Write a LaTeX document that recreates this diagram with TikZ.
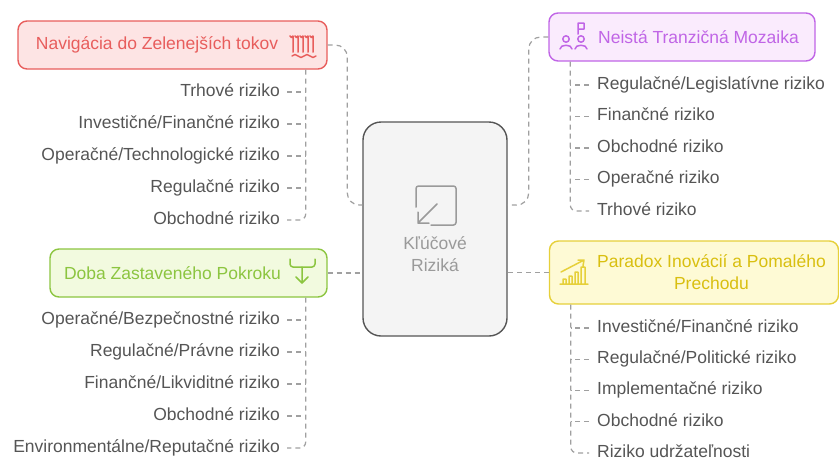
\documentclass[tikz,border=0pt]{standalone}
\usepackage{fontspec}
\setmainfont{Liberation Sans}
\usetikzlibrary{positioning}

\definecolor{navRed}{HTML}{E85D5C}
\definecolor{navFill}{HTML}{FDE4E4}
\definecolor{mozPurple}{HTML}{C065E6}
\definecolor{mozFill}{HTML}{FAEBFD}
\definecolor{dobaGreen}{HTML}{8CC540}
\definecolor{dobaFill}{HTML}{F2FADF}
\definecolor{parYellow}{HTML}{E6D03A}
\definecolor{parText}{HTML}{D9BF10}
\definecolor{parFill}{HTML}{FEFAD5}
\definecolor{itemGrey}{HTML}{555555}
\definecolor{linkGrey}{HTML}{A0A0A0}
\definecolor{keyGrey}{HTML}{9A9A9A}
\definecolor{keyFill}{HTML}{F4F4F4}
\definecolor{keyLine}{HTML}{555555}

\begin{document}
\begin{tikzpicture}[x=1pt,y=-1pt,node distance=31.5pt,
  every node/.style={font=\fontsize{17.5}{22}\selectfont},
  topic/.style={draw,rounded corners=9pt,line width=1.4pt,inner sep=0pt,minimum height=48pt},
  leftitem/.style={text=itemGrey,inner xsep=7pt,inner ysep=0pt,text height=12.5pt,text depth=4pt,anchor=east},
  rightitem/.style={text=itemGrey,inner xsep=8pt,inner ysep=0pt,text height=12.5pt,text depth=4pt,anchor=west},
  link/.style={draw=linkGrey,line width=1.2pt,dash pattern=on 5pt off 4pt},
  icon/.style={line width=1.5pt,line cap=round,line join=round}]
  \useasboundingbox (0,0) rectangle (839,459);

  % centre
  \node[draw=keyLine,fill=keyFill,line width=1.4pt,rounded corners=18pt,minimum width=144pt,minimum height=214pt] (kluc) at (435,229) {};
  \node[text=keyGrey,align=center] (klucText) at (435,254) {Kľúčové\\Riziká};
  \draw[icon,draw=keyGrey,rounded corners=2.5pt] (416,207) |- (456,186) |- (431,225);
  \draw[icon,draw=keyGrey] (437,204) -- (418,223) (418,212) -- (418,223) -- (429,223);

  % topics
  \node[topic,draw=navRed,fill=navFill,text=navRed,minimum width=309pt] (nav) at (172.5,45) {Navigácia do Zelenejších tokov\hspace*{31pt}};
  \node[topic,draw=mozPurple,fill=mozFill,text=mozPurple,minimum width=266pt] (neista) at (682,37) {\hspace*{33pt}Neistá Tranzičná Mozaika};
  \node[topic,draw=dobaGreen,fill=dobaFill,text=dobaGreen,minimum width=277pt] (doba) at (188.5,273) {Doba Zastaveného Pokroku\hspace*{32pt}};
  \node[topic,draw=parYellow,fill=parFill,text=parText,minimum width=289pt,minimum height=63pt,align=center] (paradox) at (694,272.5) {\hspace*{35pt}Paradox Inovácií a Pomalého\\\hspace*{35pt}Prechodu};

  % icons
  \draw[icon,draw=navRed] (293,52) -- (293,36) arc (0:180:1.5) (298,52) -- (298,36) arc (0:180:1.5)
    (303,52) -- (303,36) arc (0:180:1.5) (308,52) -- (308,36) arc (0:180:1.5) (313,52) -- (313,36) arc (0:180:1.5);
  \draw[icon,draw=navRed] (292,56) sin (295,54.5) cos (298,56) sin (301,57.5) cos (304,56) sin (307,54.5) cos (310,56) sin (313,57.5) cos (316,56);
  \draw[icon,draw=mozPurple] (566,39) circle (3.2) (581,39) circle (3.2)
    (560,49) .. controls (560,44) and (572,44) .. (572,49)
    (575,49) .. controls (575,44) and (587,44) .. (587,49)
    (578,34) -- (578,23) -- (584,23) -- (584,29) -- (578,29);
  \draw[icon,draw=dobaGreen,rounded corners=3pt] (290,259) |- (315,267) -- (315,259);
  \draw[icon,draw=dobaGreen] (302,267) -- (302,283) (296,277) -- (302,283) -- (308,277);
  \draw[icon,draw=parYellow] (560,284) -- (588,284)
    (563,284) |- (566,279) -- (566,284) (569,284) |- (572,276) -- (572,284)
    (575,284) |- (578,272) -- (578,284) (581,284) |- (585,267) -- (585,284)
    (561,272) -- (584,260) (578,260) -- (584,260) -- (583,266);

  % topic links
  \coordinate (klucNW) at ([yshift=24pt]kluc.west);
  \coordinate (klucNE) at ([yshift=24pt]kluc.east);
  \draw[link,rounded corners=12pt] (nav.east) -| ([xshift=-15pt]klucNW) -- (klucNW);
  \draw[link,rounded corners=12pt] (neista.west) -| ([xshift=21pt]klucNE) -- (klucNE);
  \draw[link] (doba.east) -- (doba.east -| kluc.west);
  \draw[link] (paradox.west) -- (paradox.west -| kluc.east);

  % Navigacia
  \node[leftitem] (nav1) at (287,92) {Trhové riziko};
  \node[leftitem] (nav2) [below=32pt of nav1.east,anchor=east] {Investičné/Finančné riziko};
  \node[leftitem] (nav3) [below=32pt of nav2.east,anchor=east] {Operačné/Technologické riziko};
  \node[leftitem] (nav4) [below=32pt of nav3.east,anchor=east] {Regulačné riziko};
  \node[leftitem] (nav5) [below=32pt of nav4.east,anchor=east] {Obchodné riziko};
  \coordinate (navT) at ([xshift=-22pt]nav.south east);
  \draw[link,rounded corners=6pt] (navT) |- (nav5.east);
  \draw[link] (nav1.east) -- (nav1.east -| navT);
  \draw[link] (nav2.east) -- (nav2.east -| navT);
  \draw[link] (nav3.east) -- (nav3.east -| navT);
  \draw[link] (nav4.east) -- (nav4.east -| navT);

  % Neista
  \node[rightitem] (moz1) at (589,85) {Regulačné/Legislatívne riziko};
  \node[rightitem] (moz2) [below=of moz1.west,anchor=west] {Finančné riziko};
  \node[rightitem] (moz3) [below=of moz2.west,anchor=west] {Obchodné riziko};
  \node[rightitem] (moz4) [below=of moz3.west,anchor=west] {Operačné riziko};
  \node[rightitem] (moz5) [below=of moz4.west,anchor=west] {Trhové riziko};
  \coordinate (mozT) at ([xshift=22pt]neista.south west);
  \draw[link,rounded corners=6pt] (mozT) |- (moz5.west);
  \draw[link] (moz1.west) -- (moz1.west -| mozT);
  \draw[link] (moz2.west) -- (moz2.west -| mozT);
  \draw[link] (moz3.west) -- (moz3.west -| mozT);
  \draw[link] (moz4.west) -- (moz4.west -| mozT);

  % Doba
  \node[leftitem] (doba1) at (287,320) {Operačné/Bezpečnostné riziko};
  \node[leftitem] (doba2) [below=32pt of doba1.east,anchor=east] {Regulačné/Právne riziko};
  \node[leftitem] (doba3) [below=32pt of doba2.east,anchor=east] {Finančné/Likviditné riziko};
  \node[leftitem] (doba4) [below=32pt of doba3.east,anchor=east] {Obchodné riziko};
  \node[leftitem] (doba5) [below=32pt of doba4.east,anchor=east] {Environmentálne/Reputačné riziko};
  \coordinate (dobaT) at ([xshift=-22pt]doba.south east);
  \draw[link,rounded corners=6pt] (dobaT) |- (doba5.east);
  \draw[link] (doba1.east) -- (doba1.east -| dobaT);
  \draw[link] (doba2.east) -- (doba2.east -| dobaT);
  \draw[link] (doba3.east) -- (doba3.east -| dobaT);
  \draw[link] (doba4.east) -- (doba4.east -| dobaT);

  % Paradox
  \node[rightitem] (par1) at (589,328) {Investičné/Finančné riziko};
  \node[rightitem] (par2) [below=31.25pt of par1.west,anchor=west] {Regulačné/Politické riziko};
  \node[rightitem] (par3) [below=31.25pt of par2.west,anchor=west] {Implementačné riziko};
  \node[rightitem] (par4) [below=31.25pt of par3.west,anchor=west] {Obchodné riziko};
  \node[rightitem] (par5) [below=31.25pt of par4.west,anchor=west] {Riziko udržateľnosti};
  \coordinate (parT) at ([xshift=22pt]paradox.south west);
  \draw[link,rounded corners=6pt] (parT) |- (par5.west);
  \draw[link] (par1.west) -- (par1.west -| parT);
  \draw[link] (par2.west) -- (par2.west -| parT);
  \draw[link] (par3.west) -- (par3.west -| parT);
  \draw[link] (par4.west) -- (par4.west -| parT);
\end{tikzpicture}
\end{document}
